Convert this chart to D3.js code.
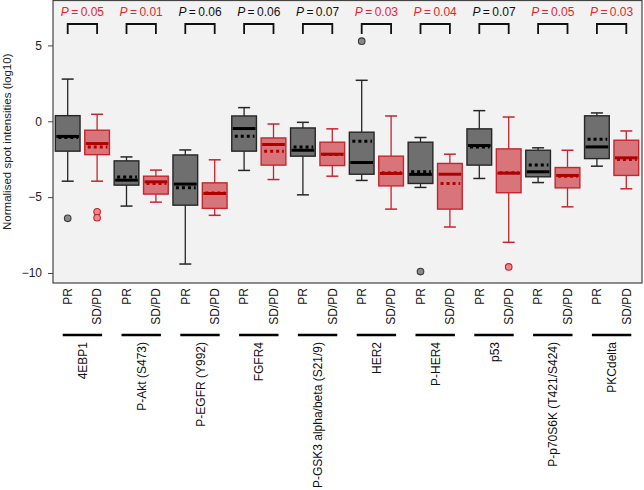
<!DOCTYPE html>
<html><head><meta charset="utf-8">
<script src="https://cdn.jsdelivr.net/npm/d3@7"></script>
<style>
html,body{margin:0;padding:0;background:#fff;}
svg{display:block;font-family:"Liberation Sans",Arial,sans-serif;}
</style></head>
<body><svg id="chart" width="644" height="490"></svg>
<script>
const proteins = ["4EBP1","P-Akt (S473)","P-EGFR (Y992)","FGFR4","P-GSK3 alpha/beta (S21/9)","HER2","P-HER4","p53","P-p70S6K (T421/S424)","PKCdelta"];
const groups = ["PR","SD/PD"];
const pValues = [0.05,0.01,0.06,0.06,0.07,0.03,0.04,0.07,0.05,0.03];
const pLabels = ["0.05","0.01","0.06","0.06","0.07","0.03","0.04","0.07","0.05","0.03"];

// PR group statistics
const prMin  = [-3.95,-5.59,-9.41,-3.24,-4.85,-3.90,-4.36,-3.77,-4.04,-2.96];
const prQ1   = [-1.97,-4.21,-5.53,-1.97,-2.30,-3.49,-4.10,-2.89,-3.66,-2.46];
const prMed  = [-1.00,-3.88,-4.14,-0.48,-1.91,-2.72,-3.50,-1.60,-3.33,-1.69];
const prQ3   = [ 0.37,-2.61,-2.22, 0.35,-0.44,-0.72,-1.38,-0.50,-1.91, 0.36];
const prMax  = [ 2.78,-2.35,-1.89, 0.90,-0.07, 2.70,-1.07, 0.70,-1.75, 0.55];
const prMean = [-1.07,-3.68,-4.39,-0.99,-1.69,-1.32,-3.32,-1.69,-2.89,-1.18];
const prOut  = [[-6.4],[],[],[],[],[5.28],[-9.91],[],[],[]];

// SD/PD group statistics
const sdMin  = [-3.95,-5.33,-6.20,-3.84,-3.62,-5.79,-6.97,-7.98,-5.64,-4.45];
const sdQ1   = [-2.20,-4.80,-5.74,-2.89,-2.92,-4.26,-5.79,-4.71,-4.39,-3.57];
const sdMed  = [-1.47,-3.99,-4.76,-1.53,-2.17,-3.44,-3.49,-3.42,-3.57,-2.41];
const sdQ3   = [-0.59,-3.62,-4.06,-1.10,-1.38,-2.30,-2.78,-1.82,-3.05,-1.25];
const sdMax  = [ 0.46,-3.22,-2.54,-0.18,-0.50, 0.35,-2.17, 0.28,-1.91,-0.64];
const sdMean = [-1.69,-4.10,-4.72,-1.97,-2.19,-3.40,-4.10,-3.40,-3.63,-2.52];
const sdOut  = [[-5.97,-6.36],[],[],[],[],[],[],[-9.6],[],[]];

const yTicks = [-10,-5,0,5];

const svg = d3.select("#chart");
const plot = {left:53, right:642, top:0.5, bottom:283};

const y = d3.scaleLinear().domain([-10.66, 7.96]).range([plot.bottom, plot.top]);
const keys = [];
proteins.forEach((p,i)=>groups.forEach(g=>keys.push(i+"|"+g)));
const x = d3.scaleBand().domain(keys).range([53, 641]).paddingInner(0).paddingOuter(0);
const bw = x.bandwidth();
const boxW = bw*0.84;
const capHalf = 6;

// panel
svg.append("rect").attr("x",plot.left).attr("y",plot.top)
  .attr("width",plot.right-plot.left).attr("height",plot.bottom-plot.top)
  .attr("fill","#f2f2f2").attr("stroke","#444").attr("stroke-width",1.2);

// y axis
const yAxis = d3.axisLeft(y).tickValues(yTicks).tickSize(5).tickPadding(6);
const ga = svg.append("g").attr("transform",`translate(${plot.left},0)`).call(yAxis);
ga.select(".domain").remove();
ga.selectAll(".tick line").attr("stroke","#444");
ga.selectAll(".tick text").attr("font-size",12).attr("fill","#222")
  .attr("font-family","'Liberation Sans',Arial,sans-serif");

svg.append("text").attr("transform",`translate(11,${(plot.top+plot.bottom)/2}) rotate(-90)`)
  .attr("text-anchor","middle").attr("font-size",11.5).attr("fill","#222")
  .text("Normalised spot intensities (log10)");

const styles = {
  "PR":   {fill:"#6f6f6f", stroke:"#262626", med:"#000", mean:"#000", ofill:"#8a8a8a", ostroke:"#3a3a3a"},
  "SD/PD":{fill:"#d8757a", stroke:"#c4262e", med:"#b00000", mean:"#b00000", ofill:"#ea8a8e", ostroke:"#c4262e"}
};

const stats = {
  "PR":   {min:prMin,q1:prQ1,med:prMed,q3:prQ3,max:prMax,mean:prMean,out:prOut},
  "SD/PD":{min:sdMin,q1:sdQ1,med:sdMed,q3:sdQ3,max:sdMax,mean:sdMean,out:sdOut}
};

const gBoxes = svg.append("g");
proteins.forEach((p,i)=>{
  groups.forEach(g=>{
    const s = stats[g], st = styles[g];
    const cx = x(i+"|"+g) + bw/2;
    const gg = gBoxes.append("g");
    // whiskers
    gg.append("line").attr("x1",cx).attr("x2",cx).attr("y1",y(s.max[i])).attr("y2",y(s.q3[i]))
      .attr("stroke",st.stroke).attr("stroke-width",1.3);
    gg.append("line").attr("x1",cx).attr("x2",cx).attr("y1",y(s.q1[i])).attr("y2",y(s.min[i]))
      .attr("stroke",st.stroke).attr("stroke-width",1.3);
    [s.max[i], s.min[i]].forEach(v=>{
      gg.append("line").attr("x1",cx-capHalf).attr("x2",cx+capHalf).attr("y1",y(v)).attr("y2",y(v))
        .attr("stroke",st.stroke).attr("stroke-width",1.5);
    });
    // box
    gg.append("rect").attr("x",cx-boxW/2).attr("width",boxW)
      .attr("y",y(s.q3[i])).attr("height",y(s.q1[i])-y(s.q3[i]))
      .attr("fill",st.fill).attr("stroke",st.stroke).attr("stroke-width",1.4);
    // median
    gg.append("line").attr("x1",cx-boxW/2+1).attr("x2",cx+boxW/2-1).attr("y1",y(s.med[i])).attr("y2",y(s.med[i]))
      .attr("stroke",st.med).attr("stroke-width",3);
    // mean (dotted)
    gg.append("line").attr("x1",cx-boxW/2+3).attr("x2",cx+boxW/2-2).attr("y1",y(s.mean[i])).attr("y2",y(s.mean[i]))
      .attr("stroke",st.mean).attr("stroke-width",3).attr("stroke-dasharray","3,3");
    // outliers
    s.out[i].forEach(v=>{
      gg.append("circle").attr("cx",cx).attr("cy",y(v)).attr("r",3.3)
        .attr("fill",st.ofill).attr("stroke",st.ostroke).attr("stroke-width",1.1);
    });
  });
});

// p-value brackets and labels
proteins.forEach((p,i)=>{
  const x1 = x(i+"|PR")+bw/2, x2 = x(i+"|SD/PD")+bw/2;
  const col = pValues[i] <= 0.05 ? "#e3262b" : "#111";
  svg.append("path").attr("d",`M${x1},34 V24 H${x2} V34`).attr("fill","none")
    .attr("stroke","#111").attr("stroke-width",1.8);
  const t = svg.append("text").attr("x",(x1+x2)/2).attr("y",16).attr("text-anchor","middle")
    .attr("font-size",12).attr("fill",col);
  t.append("tspan").attr("font-style","italic").text("P");
  t.append("tspan").text("\u2009=\u2009"+pLabels[i]);
});

// x tick labels (group names)
keys.forEach(k=>{
  const g = k.split("|")[1];
  const cx = x(k)+bw/2;
  svg.append("text").attr("transform",`translate(${cx+4.3},288) rotate(-90)`)
    .attr("text-anchor","end").attr("font-size",12).attr("fill","#111").text(g);
});

// protein underlines and labels
proteins.forEach((p,i)=>{
  const x1 = x(i+"|PR")+bw/2, x2 = x(i+"|SD/PD")+bw/2;
  svg.append("line").attr("x1",x1-5).attr("x2",x2+5).attr("y1",335).attr("y2",335)
    .attr("stroke","#000").attr("stroke-width",2.6);
  svg.append("text").attr("transform",`translate(${(x1+x2)/2+4.5},342) rotate(-90)`)
    .attr("text-anchor","end").attr("font-size",12).attr("fill","#111").text(p);
});
</script>
</body></html>
